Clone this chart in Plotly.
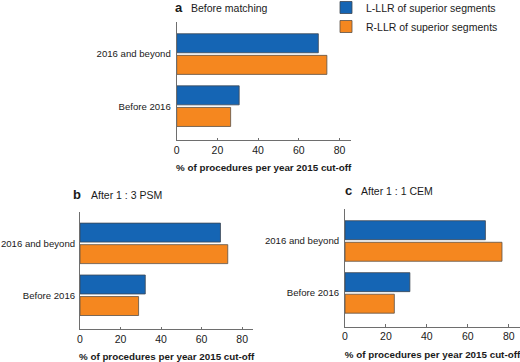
import plotly.graph_objects as go

categories = ["Before 2016", "2016 and beyond"]
series_names = ["L-LLR of superior segments", "R-LLR of superior segments"]
colors = ["#1565b4", "#f5871f"]

# values per panel: [Before 2016, 2016 and beyond]
a_left = [30.7, 69.6]
a_right = [26.5, 73.8]
b_left = [32.2, 69.3]
b_right = [28.9, 72.9]
c_left = [31.7, 68.6]
c_right = [24.1, 76.7]

panel_letters = ["a", "b", "c"]
panel_titles = ["Before matching", "After 1 : 3 PSM", "After 1 : 1 CEM"]
x_title = "% of procedures per year 2015 cut-off"
x_ticks = [0, 20, 40, 60, 80]

W, H = 520, 362
FONT = "Liberation Sans, Arial, Helvetica, sans-serif"
TXT = "#1a1a1a"
AX = "#6e6e6e"

# panel geometry in pixels: (x0, x1, ytop, ybottom)
geom = [(176.7, 350.7, 22.3, 140.0),
        (80.0, 253.3, 211.7, 329.0),
        (345.0, 520.0, 209.3, 326.7)]

fig = go.Figure()
panels = [(a_left, a_right), (b_left, b_right), (c_left, c_right)]
for i, (lv, rv) in enumerate(panels):
    xa = "x" if i == 0 else f"x{i+1}"
    ya = "y" if i == 0 else f"y{i+1}"
    # orange first so it sits below the blue bar within each group
    fig.add_trace(go.Bar(y=categories, x=rv, orientation="h", name=series_names[1],
                         marker=dict(color=colors[1], line=dict(color="#5b5047", width=0.8)),
                         xaxis=xa, yaxis=ya, showlegend=(i == 0), legendrank=2))
    fig.add_trace(go.Bar(y=categories, x=lv, orientation="h", name=series_names[0],
                         marker=dict(color=colors[0], line=dict(color="#3d4652", width=0.8)),
                         xaxis=xa, yaxis=ya, showlegend=(i == 0), legendrank=1))

layout = dict(
    width=W, height=H, margin=dict(l=0, r=0, t=0, b=0, autoexpand=False),
    paper_bgcolor="white", plot_bgcolor="white",
    barmode="group", bargap=0.17, bargroupgap=0.12,
    font=dict(family=FONT, size=10, color=TXT),
    showlegend=True,
    legend=dict(x=326 / W, y=1 + 7 / H, xanchor="left", yanchor="top",
                font=dict(size=10.5, color=TXT), bgcolor="rgba(0,0,0,0)",
                tracegroupgap=0, itemwidth=30),
)

annotations = []
for i, (x0, x1, yt, yb) in enumerate(geom):
    sx = "" if i == 0 else str(i + 1)
    layout["xaxis" + sx] = dict(
        domain=[x0 / W, x1 / W], anchor="y" + sx, range=[0, 85.5], automargin=False,
        tickvals=x_ticks, ticks="inside", ticklen=2.5, tickcolor=AX, tickwidth=1,
        showline=True, linecolor=AX, linewidth=1, showgrid=False, zeroline=False,
        tickfont=dict(size=10.5, color=TXT),
        title=dict(text="<b>" + x_title + "</b>", font=dict(size=9.8, color=TXT), standoff=9),
        fixedrange=True,
    )
    layout["yaxis" + sx] = dict(
        domain=[1 - yb / H, 1 - yt / H], anchor="x" + sx, automargin=False,
        type="category", categoryorder="array", categoryarray=categories,
        range=[-0.65, 1.61], showline=True, linecolor=AX, linewidth=1,
        ticks="", showgrid=False, zeroline=False, ticklabelstandoff=2 if i == 1 else 3,
        tickfont=dict(size=9.6, color=TXT), fixedrange=True,
    )

title_pos = [((173, 7.5), (189, 8)), ((70.7, 194), (89.3, 194.5)), ((342.7, 190.7), (359, 191.2))]
for i, ((lx, ly), (tx, ty)) in enumerate(title_pos):
    annotations.append(dict(text="<b>" + panel_letters[i] + "</b>", x=lx / W, y=1 - ly / H,
                            xref="paper", yref="paper", xanchor="left", yanchor="middle",
                            showarrow=False, font=dict(size=13, color=TXT)))
    annotations.append(dict(text=panel_titles[i], x=tx / W, y=1 - ty / H,
                            xref="paper", yref="paper", xanchor="left", yanchor="middle",
                            showarrow=False, font=dict(size=10.5, color=TXT)))
layout["annotations"] = annotations

fig.update_layout(**layout)
fig.write_html(
    "out.html",
    config={"displayModeBar": False},
    post_script="document.body.style.margin='0';document.body.style.padding='0';"
                "document.body.style.overflow='hidden';",
)
